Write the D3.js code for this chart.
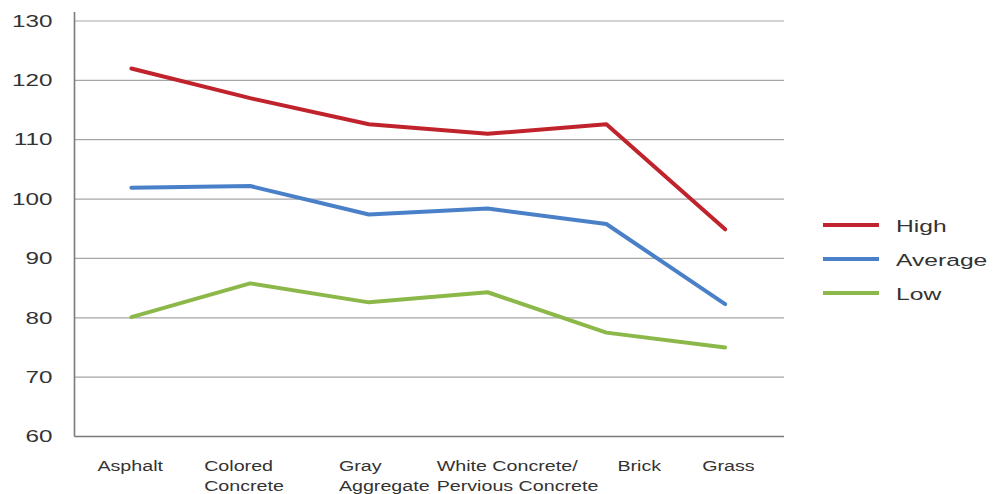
<!DOCTYPE html>
<html>
<head>
<meta charset="utf-8">
<script src="https://cdn.jsdelivr.net/npm/d3@7"></script>
<style>
  html, body { margin: 0; padding: 0; background: #fff; }
  svg { display: block; font-family: "Liberation Sans", Arial, sans-serif; }
</style>
</head>
<body>
<svg id="chart" width="994" height="494"></svg>
<script>
// Surface types along the x axis (lines of each label)
const categories = ["Asphalt", "Colored Concrete", "Gray Aggregate", "White Concrete/ Pervious Concrete", "Brick", "Grass"];
const categoryLines = [["Asphalt"], ["Colored", "Concrete"], ["Gray", "Aggregate"], ["White Concrete/", "Pervious Concrete"], ["Brick"], ["Grass"]];

// Surface temperatures
const highValues = [122, 117, 112.6, 111, 112.6, 94.9];
const averageValues = [101.9, 102.2, 97.4, 98.4, 95.8, 82.3];
const lowValues = [80.1, 85.8, 82.6, 84.3, 77.5, 75];

const seriesNames = ["High", "Average", "Low"];
const yTicks = [60, 70, 80, 90, 100, 110, 120, 130];

const colors = { High: "#c0232c", Average: "#4a80c8", Low: "#8cb84a" };
const seriesData = { High: highValues, Average: averageValues, Low: lowValues };

const svg = d3.select("#chart");
const plotLeft = 74.5, plotRight = 784, plotTop = 21, plotBottom = 436.5;

const x = d3.scalePoint().domain(categories).range([72, 784.5]).padding(0.5);
const y = d3.scaleLinear().domain([60, 130]).range([plotBottom, plotTop]);

// Horizontal gridlines
svg.append("g")
  .selectAll("line")
  .data(yTicks.filter(t => t > 60))
  .join("line")
  .attr("x1", plotLeft).attr("x2", plotRight)
  .attr("y1", d => y(d)).attr("y2", d => y(d))
  .attr("stroke", "#a6a6a6").attr("stroke-width", 1.2);

// Y axis with wide-set labels
const yStretch = 1.47;
const yAxis = svg.append("g")
  .attr("transform", `translate(${plotLeft},0)`)
  .call(d3.axisLeft(y).tickValues(yTicks).tickSize(0).tickPadding(22));
yAxis.select(".domain").remove();
yAxis.selectAll("text")
  .attr("font-size", 16.5)
  .attr("fill", "#333")
  .attr("font-family", "Liberation Sans, Arial, sans-serif")
  .attr("x", -22 / yStretch)
  .attr("transform", `scale(${yStretch},1)`);

svg.append("line")
  .attr("x1", plotLeft).attr("x2", plotLeft)
  .attr("y1", 12).attr("y2", plotBottom)
  .attr("stroke", "#7a7a7a").attr("stroke-width", 1.6);
svg.append("line")
  .attr("x1", plotLeft).attr("x2", plotRight)
  .attr("y1", plotBottom).attr("y2", plotBottom)
  .attr("stroke", "#7a7a7a").attr("stroke-width", 1.6);

// Category labels, left-aligned blocks shifted from each point
const labelShift = [-34, -46, -30, -51, 11, -23];
const xStretch = 1.27;
const xl = svg.append("g");
categories.forEach((c, i) => {
  const t = xl.append("g")
    .attr("transform", `translate(${x(c) + labelShift[i]},471) scale(${xStretch},1)`)
    .append("text")
    .attr("font-size", 15.5)
    .attr("fill", "#333");
  categoryLines[i].forEach((ln, j) => {
    t.append("tspan").attr("x", 0).attr("dy", j === 0 ? 0 : 20).text(ln);
  });
});

// Series lines
const line = d3.line()
  .x((d, i) => x(categories[i]))
  .y(d => y(d));

seriesNames.forEach(name => {
  svg.append("path")
    .datum(seriesData[name])
    .attr("d", line)
    .attr("fill", "none")
    .attr("stroke", colors[name])
    .attr("stroke-width", 4)
    .attr("stroke-linejoin", "round")
    .attr("stroke-linecap", "round");
});

// Legend
const legend = svg.append("g");
const legStretch = 1.45;
seriesNames.forEach((name, i) => {
  const ly = 225 + i * 34;
  legend.append("line")
    .attr("x1", 823).attr("x2", 879)
    .attr("y1", ly).attr("y2", ly)
    .attr("stroke", colors[name]).attr("stroke-width", 4);
  legend.append("g")
    .attr("transform", `translate(896,${ly + 6.5}) scale(${legStretch},1)`)
    .append("text")
    .attr("font-size", 17).attr("fill", "#333")
    .text(name);
});
</script>
</body>
</html>
